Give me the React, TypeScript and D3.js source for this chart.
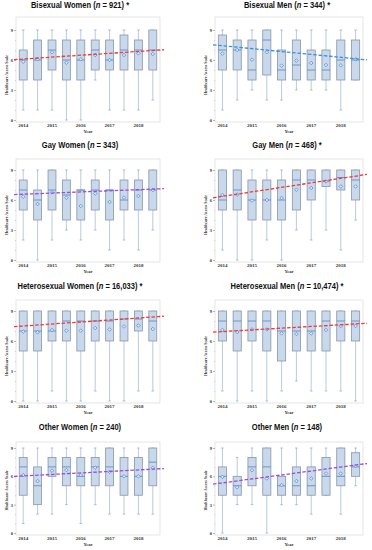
import React, { useEffect, useRef } from "react";
import * as d3 from "d3";

// each box: [low, q1, median, q3, high, mean]
const bisexualWomen = [
  [1, 4, 6, 7, 9, 5.83], [1, 4, 6, 8, 9, 6.07], [1, 5, 7, 8, 9, 6.77], [0, 4, 6, 8, 9, 5.73], [0, 4, 6, 8, 9, 6.07],
  [4, 5, 7, 8, 9, 6.5], [1, 5, 6, 8, 9, 6.0], [1, 5, 7, 8.5, 9, 6.5], [1, 5, 7, 8, 9, 6.67], [2, 5, 7, 9, 9, 6.6],
];
const bisexualMen = [
  [1, 5, 7, 8.5, 9, 6.64], [2, 5, 7, 8, 9, 7.0], [3, 4, 5, 8, 9, 6.04], [2, 4.5, 8, 9, 9, 6.78], [2, 4, 5, 7, 9, 5.44],
  [3, 4, 5.5, 8, 9, 5.94], [3, 4, 5, 7, 9, 5.7], [3, 4, 5, 7, 9, 5.5], [1, 4, 6, 8, 9, 5.47], [4, 4, 6, 8, 9, 6.07],
];
const gayWomen = [
  [2, 5, 7, 8, 9, 6.33], [0, 4, 6, 7, 9, 5.6], [2, 5, 7, 9, 9, 6.76], [3, 4, 6.5, 8, 9, 6.23], [2, 4, 7, 7, 9, 5.4],
  [3, 5, 7, 8, 9, 6.65], [1, 4, 7, 7, 9, 5.8], [2, 5, 6, 8, 9, 6.24], [1, 5, 7, 8, 9, 6.4], [3, 5, 7, 9, 9, 7.0],
];
const gayMen = [
  [1, 5, 6, 9, 9, 6.5], [0, 5, 7, 9, 9, 6.54], [0, 4, 6, 8, 9, 5.95], [2, 4, 6, 8, 9, 6.0], [0, 4, 6, 8, 9, 6.2],
  [3, 5, 8, 9, 9, 7.03], [2, 6, 8, 9, 9, 7.2], [3, 7.35, 7.9, 9, 9, 7.86], [1, 7, 8.25, 9, 9, 7.35], [4, 6, 8, 9, 9, 7.35],
];
const heteroWomen = [
  [0, 5, 7, 9, 9, 6.94], [0, 5, 7, 9, 9, 6.87], [1, 6, 7, 9, 9, 7.1], [0, 6, 8, 9, 9, 7.04], [0, 5, 8, 9, 9, 7.04],
  [1, 6, 8, 9, 9, 7.3], [0, 6, 8, 9, 9, 7.15], [0, 6, 8.2, 9, 9, 7.45], [1, 7, 8.2, 9, 9, 7.55], [1, 6, 8, 9, 9, 7.2],
];
const heteroMen = [
  [1, 6, 8, 9, 9, 7.1], [0, 5, 8, 9, 9, 6.9], [1, 6, 8, 9, 9, 7.16], [0, 5, 8, 9, 9, 7.16], [1, 4, 7, 9, 9, 6.76],
  [2, 5, 7, 9, 9, 6.7], [1, 5, 7, 9, 9, 6.76], [1, 5, 8, 9, 9, 7.1], [1, 6, 8, 9, 9, 7.5], [0, 6, 8, 9, 9, 7.5],
];
const otherWomen = [
  [1, 4, 7, 8, 9, 6.13], [2, 3, 5, 7, 9, 5.5], [2, 6, 7, 8, 9, 6.6], [3, 5, 7, 8, 9, 6.66], [1, 5, 6, 8, 9, 6.13],
  [3, 5, 7, 8, 9, 6.92], [2, 5, 7, 9, 9, 6.48], [2, 4, 6, 8, 9, 6.0], [2, 4, 6, 8, 9, 6.0], [2, 5, 7.5, 9, 9, 6.9],
];
const otherMen = [
  [0, 4, 6, 7, 9, 5.94], [3, 4, 5, 6, 8, 4.85], [3, 5, 7, 8, 9, 6.64], [0, 4, 7, 9, 9, 5.77], [3, 4, 5, 6, 9, 5.07],
  [3, 4, 5, 7, 9, 5.5], [2, 4, 5, 7, 9, 5.77], [4, 4, 6, 8, 9, 6.3], [2, 5, 6, 9, 9, 6.3], [5, 6, 7, 8.5, 9, 7.1],
];

const panelData = [bisexualWomen, bisexualMen, gayWomen, gayMen, heteroWomen, heteroMen, otherWomen, otherMen];
const titles = ["Bisexual Women", "Bisexual Men", "Gay Women", "Gay Men", "Heterosexual Women", "Heterosexual Men", "Other Women", "Other Men"];
const ns = ["921", "344", "343", "468", "16,033", "10,474", "240", "148"];
const starred = [true, true, false, true, true, true, false, false];
// trend value at left and right edge of the frame
const trendLeft = [6.05, 7.5, 6.55, 6.25, 7.45, 6.9, 6.0, 5.2];
const trendRight = [7.0, 6.05, 7.12, 8.5, 8.45, 7.75, 6.8, 7.3];
const trendColor = ["#ee3a3a", "#3a8ee0", "#9a4fd6", "#ee3a3a", "#ee3a3a", "#ee3a3a", "#9a4fd6", "#9a4fd6"];
const yearLabels = ["2014", "", "2015", "", "2016", "", "2017", "", "2018", ""];
const yTicks = [0, 3, 6, 9];

const cols = [{ x0: 16, x1: 160, tx: 80 }, { x0: 215, x1: 363, tx: 287 }];
const rows = [
  { top: 17, y9: 30, y0: 120, ty: 6 },
  { top: 159, y9: 170, y0: 260, ty: 146 },
  { top: 300, y9: 311, y0: 401, ty: 287 },
  { top: 442, y9: 448, y0: 533, ty: 428 },
];

const serif = "'Liberation Serif', 'DejaVu Serif', serif";
const sans = "'Liberation Sans', Arial, sans-serif";

export default function App() {
  const svgRef = useRef<SVGSVGElement>(null);

  useEffect(() => {
    const svg = d3.select(svgRef.current);
    svg.selectAll("*").remove();

    panelData.forEach((boxes, i) => {
      const c = cols[i % 2];
      const r = rows[Math.floor(i / 2)];
      const g = svg.append("g");

      const x = d3.scaleBand<number>().domain(d3.range(10)).range([c.x0, c.x1]);
      const y = d3.scaleLinear().domain([0, 9]).range([r.y0, r.y9]);
      const bw = x.bandwidth() * 0.55;
      const cx = (k: number) => (x(k) as number) + x.bandwidth() / 2;

      // frame
      g.append("rect")
        .attr("x", c.x0).attr("y", r.top)
        .attr("width", c.x1 - c.x0).attr("height", r.y0 + 2 - r.top)
        .attr("fill", "white").attr("stroke", "#d4d4d4").attr("stroke-width", 0.6);

      // y axis
      const yAxis = d3.axisLeft(y).tickValues(yTicks).tickSize(2).tickFormat(d3.format("d"));
      const ya = g.append("g").attr("transform", `translate(${c.x0},0)`).call(yAxis);
      ya.select(".domain").remove();
      ya.selectAll("line").attr("stroke", "#777").attr("stroke-width", 0.5);
      ya.selectAll("text").attr("font-size", 4.5).attr("font-family", serif).attr("font-weight", "bold").attr("fill", "#333").attr("x", -3);
      const minor = d3.axisLeft(y).tickValues(d3.range(0, 10).filter((v) => v % 3 !== 0)).tickSize(1).tickFormat(() => "");
      const ym = g.append("g").attr("transform", `translate(${c.x0},0)`).call(minor);
      ym.select(".domain").remove();
      ym.selectAll("line").attr("stroke", "#999").attr("stroke-width", 0.4);

      g.append("text")
        .attr("transform", `translate(${c.x0 - 9},${(r.y9 + r.y0) / 2}) rotate(-90)`)
        .attr("text-anchor", "middle").attr("dominant-baseline", "middle")
        .attr("font-size", 4.6).attr("font-family", serif).attr("font-weight", "bold").attr("fill", "#333")
        .attr("textLength", 40).attr("lengthAdjust", "spacingAndGlyphs")
        .text("Healthcare Access Scale");

      // x labels
      g.selectAll(".yr").data(yearLabels).enter().append("text")
        .attr("x", (_, k) => cx(k)).attr("y", r.y0 + 7)
        .attr("text-anchor", "middle").attr("font-size", 5).attr("font-family", serif)
        .attr("font-weight", "bold").attr("fill", "#333").text((d) => d);
      g.append("text")
        .attr("x", (c.x0 + c.x1) / 2).attr("y", r.y0 + 13)
        .attr("text-anchor", "middle").attr("font-size", 4.6).attr("font-family", serif)
        .attr("font-weight", "bold").attr("fill", "#333").text("Year");

      // boxes
      const b = g.selectAll(".box").data(boxes).enter().append("g");
      b.append("line")
        .attr("x1", (_, k) => cx(k)).attr("x2", (_, k) => cx(k))
        .attr("y1", (d) => y(d[0])).attr("y2", (d) => y(d[4]))
        .attr("stroke", "#a9bdd6").attr("stroke-width", 0.8);
      [0, 4].forEach((idx) => {
        b.append("line")
          .attr("x1", (_, k) => cx(k) - 1.3).attr("x2", (_, k) => cx(k) + 1.3)
          .attr("y1", (d) => y(d[idx])).attr("y2", (d) => y(d[idx]))
          .attr("stroke", "#8fa6c4").attr("stroke-width", 0.7);
      });
      b.append("rect")
        .attr("x", (_, k) => cx(k) - bw / 2).attr("width", bw)
        .attr("y", (d) => y(d[3])).attr("height", (d) => Math.max(0.5, y(d[1]) - y(d[3])))
        .attr("fill", "#c9d9eb").attr("stroke", "#8696ab").attr("stroke-width", 0.8);
      b.append("line")
        .attr("x1", (_, k) => cx(k) - bw / 2).attr("x2", (_, k) => cx(k) + bw / 2)
        .attr("y1", (d) => y(d[2])).attr("y2", (d) => y(d[2]))
        .attr("stroke", "#5b80bd").attr("stroke-width", 0.8);
      b.append("path")
        .attr("d", (d, k) => {
          const px = cx(k), py = y(d[5]), s = 1.8;
          return `M${px},${py - s}L${px + s},${py}L${px},${py + s}L${px - s},${py}Z`;
        })
        .attr("fill", "#d8e6f5").attr("stroke", "#4a86d4").attr("stroke-width", 0.7);

      // trend line
      const slope = (trendRight[i] - trendLeft[i]) / (c.x1 - c.x0);
      const xa = c.x0 - 2, xb = c.x1 + 4;
      g.append("line")
        .attr("x1", xa).attr("x2", xb)
        .attr("y1", y(trendLeft[i] + slope * (xa - c.x0)))
        .attr("y2", y(trendLeft[i] + slope * (xb - c.x0)))
        .attr("stroke", trendColor[i]).attr("stroke-width", 1.3).attr("stroke-dasharray", "3.5,1.8");

      // title
      const t = g.append("text")
        .attr("transform", `translate(${c.tx},${r.ty}) scale(0.84,1)`)
        .attr("text-anchor", "middle").attr("dominant-baseline", "middle")
        .attr("font-size", 9).attr("font-family", sans).attr("font-weight", "bold").attr("fill", "#111");
      t.append("tspan").text(`${titles[i]} (`);
      t.append("tspan").attr("font-style", "italic").text("n");
      t.append("tspan").text(` = ${ns[i]})${starred[i] ? " *" : ""}`);
    });
  }, []);

  return (
    <svg
      ref={svgRef}
      width={372}
      height={550}
      style={{ position: "absolute", left: 0, top: 0, display: "block", background: "white" }}
    />
  );
}
